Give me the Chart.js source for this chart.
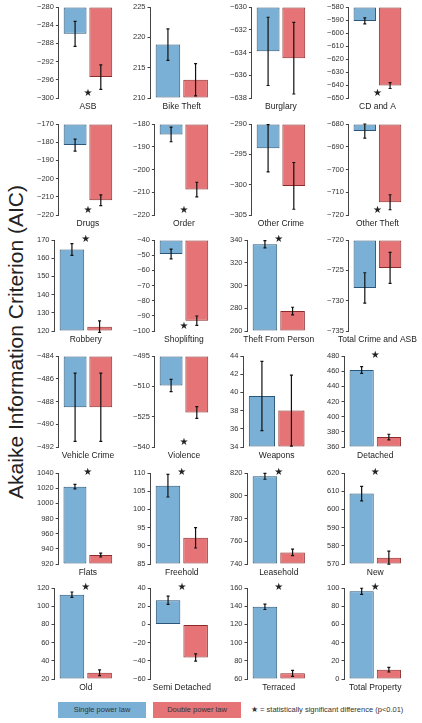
<!DOCTYPE html>
<html>
<head>
<meta charset="utf-8">
<script src="https://cdn.jsdelivr.net/npm/chart.js@4.4.0/dist/chart.umd.min.js"></script>
<style>
  html, body { margin: 0; padding: 0; background: #fff; }
  body { width: 422px; height: 723px; position: relative; overflow: hidden; font-family: "Liberation Sans", Arial, sans-serif; }
  .panel { position: absolute; }
  .ytitle { position: absolute; left: 16px; top: 342px; transform: translate(-50%, -50%) rotate(-90deg); white-space: nowrap; font-size: 21px; color: #222; }
  .lbox { position: absolute; top: 702px; width: 88px; height: 16px; line-height: 16px; text-align: center; font-size: 7.5px; color: #333; }
  .note { position: absolute; left: 251px; top: 702px; line-height: 16px; font-size: 7.5px; color: #333; white-space: nowrap; }
</style>
</head>
<body>
<div class="ytitle">Akaike Information Criterion (AIC)</div>
<div class="lbox" style="left:58px;background:#7ab0d5">Single power law</div>
<div class="lbox" style="left:153px;background:#e67376">Double power law</div>
<div class="note">★ = statistically significant difference (p&lt;0.01)</div>
<script>
const panels = ['ASB', 'Bike Theft', 'Burglary', 'CD and A', 'Drugs', 'Order', 'Other Crime', 'Other Theft',
  'Robbery', 'Shoplifting', 'Theft From Person', 'Total Crime and ASB', 'Vehicle Crime', 'Violence', 'Weapons', 'Detached',
  'Flats', 'Freehold', 'Leasehold', 'New', 'Old', 'Semi Detached', 'Terraced', 'Total Property'];
const singleAIC = [-285.9, 218.8, -633.9, -590.7, -181.6, -184.6, -294.0, -683.1, 164.8, -49.2, 336.2, -727.9,
  -488.5, -509.6, 39.6, 461.6, 1022, 106.5, 817.1, 608.7, 112.7, 26.5, 139.3, 96.4];
const singleErr = [2.75, 2.6, 3.0, 2.3, 3.3, 3.2, 3.9, 3.1, 3.2, 3.2, 3.2, 2.5,
  3.0, 3.0, 3.8, 4.4, 3.0, 3.1, 2.6, 4.0, 2.9, 4.5, 2.9, 3.3];
const doubleAIC = [-295.4, 213.0, -634.5, -640.4, -211.9, -208.8, -300.2, -714.4, 122.4, -93.2, 277.5, -724.6,
  -488.5, -522.9, 38.0, 373.1, 931.8, 92.2, 750.2, 573.5, 26.9, -36.4, 66.2, 10.2];
const doubleErr = [2.7, 2.65, 3.15, 2.3, 3.0, 3.2, 3.85, 3.3, 3.2, 3.1, 3.4, 2.55,
  3.0, 2.9, 3.9, 3.7, 2.6, 2.8, 2.9, 3.6, 3.1, 4.0, 3.3, 2.5];
const significant = [true, false, false, true, true, true, false, true, true, true, true, false,
  false, true, false, true, true, true, true, true, true, true, true, true];
const axisMin = [-300, 210, -638, -650, -220, -220, -305, -720, 120, -100, 260, -735,
  -492, -540, 34, 360, 920, 85, 740, 570, 20, -60, 60, 0];
const axisMax = [-280, 225, -630, -580, -170, -180, -290, -680, 170, -40, 340, -720,
  -484, -495, 44, 480, 1040, 110, 820, 620, 120, 40, 160, 100];
const axisStep = [4, 5, 2, 10, 10, 10, 5, 10, 10, 10, 20, 5,
  2, 15, 2, 20, 20, 5, 20, 10, 20, 20, 20, 20];

const FONT = '"Liberation Sans", Arial, sans-serif';
const colLeft = [35, 131, 228, 325];
const areaRight = [117, 213, 310, 406];
const rowTop = [7, 124, 240, 356, 473, 588];
const plotH = 91, padTop = 8, padBottom = 16, padRight = 12;

const fmt = v => (v < 0 ? '\u2212' + Math.abs(v) : String(v));

// error bars, significance star and panel name, placed from the drawn bars and scales
function marks(i) {
  return {
    id: 'marks',
    afterDatasetsDraw(chart) {
      const { ctx, scales: { x, y } } = chart;
      const vals = [singleAIC[i], doubleAIC[i]];
      const errs = [singleErr[i], doubleErr[i]];
      ctx.save();
      ctx.strokeStyle = '#111';
      ctx.lineWidth = 1.2;
      vals.forEach((v, k) => {
        const px = chart.getDatasetMeta(k).data[0].x;
        const t = y.getPixelForValue(v + errs[k]);
        const b = y.getPixelForValue(v - errs[k]);
        ctx.beginPath();
        ctx.moveTo(px, t); ctx.lineTo(px, b);
        ctx.moveTo(px - 1.5, t); ctx.lineTo(px + 1.5, t);
        ctx.moveTo(px - 1.5, b); ctx.lineTo(px + 1.5, b);
        ctx.stroke();
      });
      if (significant[i]) {
        const sx = x.getPixelForValue(0);
        const sy = axisMax[i] > 0 ? y.top - 1 : y.bottom - 0.05 * (y.bottom - y.top);
        ctx.fillStyle = '#222';
        ctx.font = '10px "DejaVu Sans"';
        ctx.textAlign = 'center';
        ctx.textBaseline = 'middle';
        ctx.fillText('\u2605', sx, sy);
      }
      ctx.fillStyle = '#222';
      ctx.font = '8.5px ' + FONT;
      ctx.textAlign = 'center';
      ctx.textBaseline = 'middle';
      ctx.fillText(panels[i], (x.left + x.right) / 2, y.bottom + 8.5);
      ctx.restore();
    }
  };
}

panels.forEach((name, i) => {
  const r = Math.floor(i / 4), c = i % 4;
  const w = areaRight[c] - colLeft[c] + padRight;
  const h = padTop + plotH + padBottom;
  const div = document.createElement('div');
  div.className = 'panel';
  div.style.left = colLeft[c] + 'px';
  div.style.top = (rowTop[r] - padTop) + 'px';
  const cv = document.createElement('canvas');
  cv.width = w; cv.height = h;
  cv.style.width = w + 'px'; cv.style.height = h + 'px';
  div.appendChild(cv);
  document.body.appendChild(div);

  const base = Math.min(Math.max(0, axisMin[i]), axisMax[i]);
  const bar = (v, fill, edge) => ({
    data: [v], backgroundColor: fill, borderColor: edge, borderWidth: 1, borderSkipped: false,
    base: base, categoryPercentage: 0.885, barPercentage: 0.889
  });

  new Chart(cv, {
    type: 'bar',
    data: {
      labels: [name],
      datasets: [
        bar(singleAIC[i], '#7ab0d5', '#2c5677'),
        bar(doubleAIC[i], '#e67376', '#8a2a2a')
      ]
    },
    plugins: [marks(i)],
    options: {
      responsive: false,
      animation: false,
      devicePixelRatio: 1,
      layout: { padding: { top: padTop, left: 0, right: padRight, bottom: padBottom } },
      plugins: { legend: { display: false }, tooltip: { enabled: false } },
      scales: {
        x: { display: false },
        y: {
          min: axisMin[i], max: axisMax[i],
          ticks: { stepSize: axisStep[i], color: '#333', padding: 2, font: { family: FONT, size: 7.5 }, callback: v => fmt(v) },
          grid: { drawOnChartArea: false, drawTicks: true, tickLength: 3, color: '#444', lineWidth: 1 },
          border: { display: true, color: '#444', width: 1 }
        }
      }
    }
  });
});
</script>
</body>
</html>
